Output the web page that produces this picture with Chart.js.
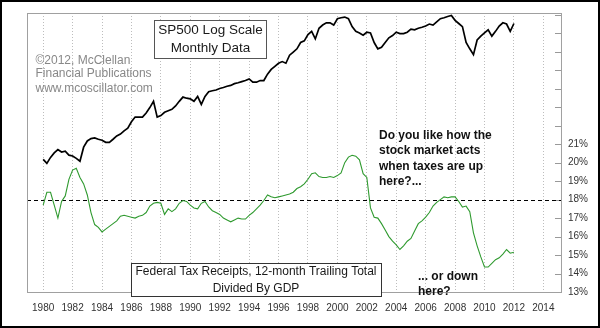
<!DOCTYPE html>
<html>
<head>
<meta charset="utf-8">
<script src="https://cdn.jsdelivr.net/npm/chart.js@4.4.1/dist/chart.umd.min.js"></script>
<style>
  html, body { margin: 0; padding: 0; background: #fff; }
  #wrap { width: 600px; height: 328px; }
</style>
</head>
<body>
<div id="wrap"><canvas id="taxChart" width="600" height="328"></canvas></div>
<script>
// Quarterly samples, first one is Jan 1980
const startYear = 1980;
const stepYears = 0.25;

// S&P 500 index level (plotted on a log axis)
const sp500 = [
    114, 106, 118, 128,   136, 130, 132, 123,   121, 116, 110, 142,   159, 166, 168, 164,
    161, 155, 155, 164,   174, 180, 191, 200,   225, 245, 245, 245,   264, 291, 326, 245,
    252, 267, 275, 282,   300, 326, 352, 345,   341, 326, 356, 308,   356, 388, 395, 400,
    411, 419, 428, 435,   449, 456, 466, 475,   489, 461, 461, 475,   475, 533, 581, 615,
    650, 670, 650, 752,   796, 844, 946, 975,   1092, 1158, 1010, 1225, 1298, 1352, 1352, 1298,
    1456, 1482, 1500, 1456, 1262, 1158, 1125, 1080, 1140, 1125, 946, 844, 868, 946, 1031, 1074,
    1140, 1111, 1111, 1140, 1205, 1192, 1225, 1247, 1276, 1322, 1298, 1377, 1456, 1482, 1517, 1544,
    1415, 1335, 1262, 946,  844, 760, 990, 1062,  1125, 1192, 1062, 1158, 1276, 1352, 1322, 1158,
    1335
];

// Federal tax receipts (12-month trailing) as % of GDP
const taxPct = [
    17.7, 18.4, 18.4, 17.7,   17.0, 17.9, 18.2, 19.1,   19.6, 19.7, 19.2, 18.85,  18.25, 17.3, 16.65, 16.5,
    16.25, 16.4, 16.55, 16.7, 16.85, 17.1, 17.15, 17.1, 17.05, 17.0, 17.1, 17.15, 17.3, 17.65, 17.8, 17.85,
    17.8, 17.2, 17.5, 17.35,  17.5, 17.8, 17.95, 17.9,  17.7, 17.55, 17.5, 17.8,  17.9, 17.6, 17.4, 17.3,
    17.2, 17.0, 16.9, 16.8,   16.9, 17.0, 16.95, 16.95, 17.15, 17.3, 17.5, 17.7, 17.95, 18.25, 18.15, 18.1,
    18.15, 18.2, 18.25, 18.3, 18.4, 18.6, 18.7, 18.85, 19.1, 19.4, 19.45, 19.25, 19.2, 19.2, 19.25, 19.2,
    19.3, 19.45, 20.0, 20.3,  20.4, 20.35, 20.15, 19.4, 19.2, 17.55, 17.05, 17.0, 16.7, 16.35, 16.0, 15.75,
    15.55, 15.3, 15.5, 15.75, 15.9, 16.3, 16.7, 16.85, 17.05, 17.3, 17.65, 17.85, 18.0, 18.15, 18.1, 18.15,
    18.15, 17.9, 17.6, 17.65, 17.35, 16.2, 15.5, 14.9, 14.35, 14.35, 14.55, 14.75, 14.85, 15.05, 15.3, 15.1,
    15.15
];

const yearTicks = [1980, 1982, 1984, 1986, 1988, 1990, 1992, 1994, 1996, 1998,
                   2000, 2002, 2004, 2006, 2008, 2010, 2012, 2014];
const pctTicks = [13, 14, 15, 16, 17, 18, 19, 20, 21, 22, 23, 24, 25, 26, 27, 28];
const pctLabelMax = 21;
const refLevel = 18;

const FONT = '"Liberation Sans", Arial, sans-serif';

function toPoints(values) {
    return values.map((v, i) => ({ x: startYear + i * stepYears, y: v }));
}

// Extra drawing: frame, 18% reference line, inside ticks, text boxes
const decorations = {
    id: 'decorations',
    beforeDatasetsDraw(chart) {
        const ctx = chart.ctx;
        const a = chart.chartArea;
        const yPct = chart.scales.yPct;
        ctx.save();

        // inside tick marks on the right axis
        ctx.strokeStyle = '#999';
        ctx.lineWidth = 1;
        pctTicks.forEach(v => {
            const y = Math.round(yPct.getPixelForValue(v)) + 0.5;
            ctx.beginPath();
            ctx.moveTo(a.right - 6, y);
            ctx.lineTo(a.right, y);
            ctx.stroke();
        });

        // dashed reference level
        const yRef = Math.round(yPct.getPixelForValue(refLevel)) + 0.5;
        ctx.strokeStyle = '#000';
        ctx.setLineDash([4, 3]);
        ctx.beginPath();
        ctx.moveTo(a.left, yRef);
        ctx.lineTo(a.right, yRef);
        ctx.stroke();
        ctx.setLineDash([]);

        // plot frame
        ctx.strokeStyle = '#a0a0a0';
        ctx.strokeRect(a.left + 0.5, a.top + 0.5, a.right - a.left, a.bottom - a.top);
        ctx.restore();
    },
    afterDraw(chart) {
        const ctx = chart.ctx;
        ctx.save();

        // SP500 title box
        ctx.fillStyle = '#fff';
        ctx.fillRect(154, 20, 113, 38);
        ctx.strokeStyle = '#555';
        ctx.lineWidth = 1;
        ctx.strokeRect(154.5, 20.5, 112, 38);
        ctx.fillStyle = '#1a1a1a';
        ctx.font = '13.5px ' + FONT;
        ctx.textAlign = 'center';
        ctx.textBaseline = 'middle';
        ctx.fillText('SP500 Log Scale', 210.5, 30);
        ctx.fillText('Monthly Data', 210.5, 48);

        // copyright
        ctx.fillStyle = '#888';
        ctx.font = '12px ' + FONT;
        ctx.textAlign = 'left';
        ctx.fillText('\u00a92012, McClellan', 35.5, 60.5);
        ctx.fillText('Financial Publications', 35.5, 74);
        ctx.fillText('www.mcoscillator.com', 35.5, 88.5);

        // tax series box
        ctx.fillStyle = '#fff';
        ctx.fillRect(131, 263, 251, 33);
        ctx.strokeStyle = '#333';
        ctx.strokeRect(131.5, 263.5, 250, 33);
        ctx.fillStyle = '#1a1a1a';
        ctx.font = '12px ' + FONT;
        ctx.textAlign = 'center';
        ctx.fillText('Federal Tax Receipts, 12-month Trailing Total', 256, 272);
        ctx.fillText('Divided By GDP', 256, 288.5);

        // commentary
        ctx.fillStyle = '#111';
        ctx.font = 'bold 12px ' + FONT;
        ctx.textAlign = 'left';
        ['Do you like how the', 'stock market acts', 'when taxes are up', 'here?...']
            .forEach((t, i) => ctx.fillText(t, 379, 135.5 + i * 15.5));
        ctx.fillText('... or down', 418, 277);
        ctx.fillText('here?', 418, 292);

        // outer frame
        ctx.strokeStyle = '#000';
        ctx.lineWidth = 2;
        ctx.strokeRect(1, 1, chart.width - 2, chart.height - 2);
        ctx.restore();
    }
};

const chart = new Chart(document.getElementById('taxChart'), {
    type: 'line',
    data: {
        datasets: [{
            label: 'SP500',
            data: toPoints(sp500),
            yAxisID: 'ySp',
            borderColor: '#000',
            borderWidth: 1.7,
            pointRadius: 0,
            tension: 0
        }, {
            label: 'Tax receipts / GDP',
            data: toPoints(taxPct),
            yAxisID: 'yPct',
            borderColor: '#2f9a2f',
            borderWidth: 1.1,
            pointRadius: 0,
            tension: 0
        }]
    },
    options: {
        responsive: false,
        animation: false,
        events: [],
        layout: { padding: { left: 27, top: 9, right: 5, bottom: 4 } },
        plugins: {
            legend: { display: false },
            tooltip: { enabled: false }
        },
        scales: {
            x: {
                type: 'linear',
                position: 'bottom',
                min: 1978.9,
                max: 2015.2,
                afterBuildTicks: scale => { scale.ticks = yearTicks.map(v => ({ value: v })); },
                ticks: {
                    color: '#333',
                    font: { size: 10, family: FONT },
                    padding: 10,
                    maxRotation: 0,
                    autoSkip: false,
                    callback: v => String(v)
                },
                grid: { color: '#bdbdbd', lineWidth: 1, drawTicks: false },
                border: { display: false, dash: [1, 2] }
            },
            ySp: {
                type: 'logarithmic',
                display: false,
                min: 10.3,
                max: 1615
            },
            yPct: {
                type: 'linear',
                position: 'right',
                min: 13,
                max: 28.1,
                afterBuildTicks: scale => { scale.ticks = pctTicks.map(v => ({ value: v })); },
                ticks: {
                    color: '#333',
                    font: { size: 10, family: FONT },
                    padding: 7,
                    autoSkip: false,
                    callback: v => (v <= pctLabelMax ? v + '%' : '')
                },
                grid: { display: false, drawTicks: false },
                border: { display: false }
            }
        }
    },
    plugins: [decorations]
});
</script>
</body>
</html>
